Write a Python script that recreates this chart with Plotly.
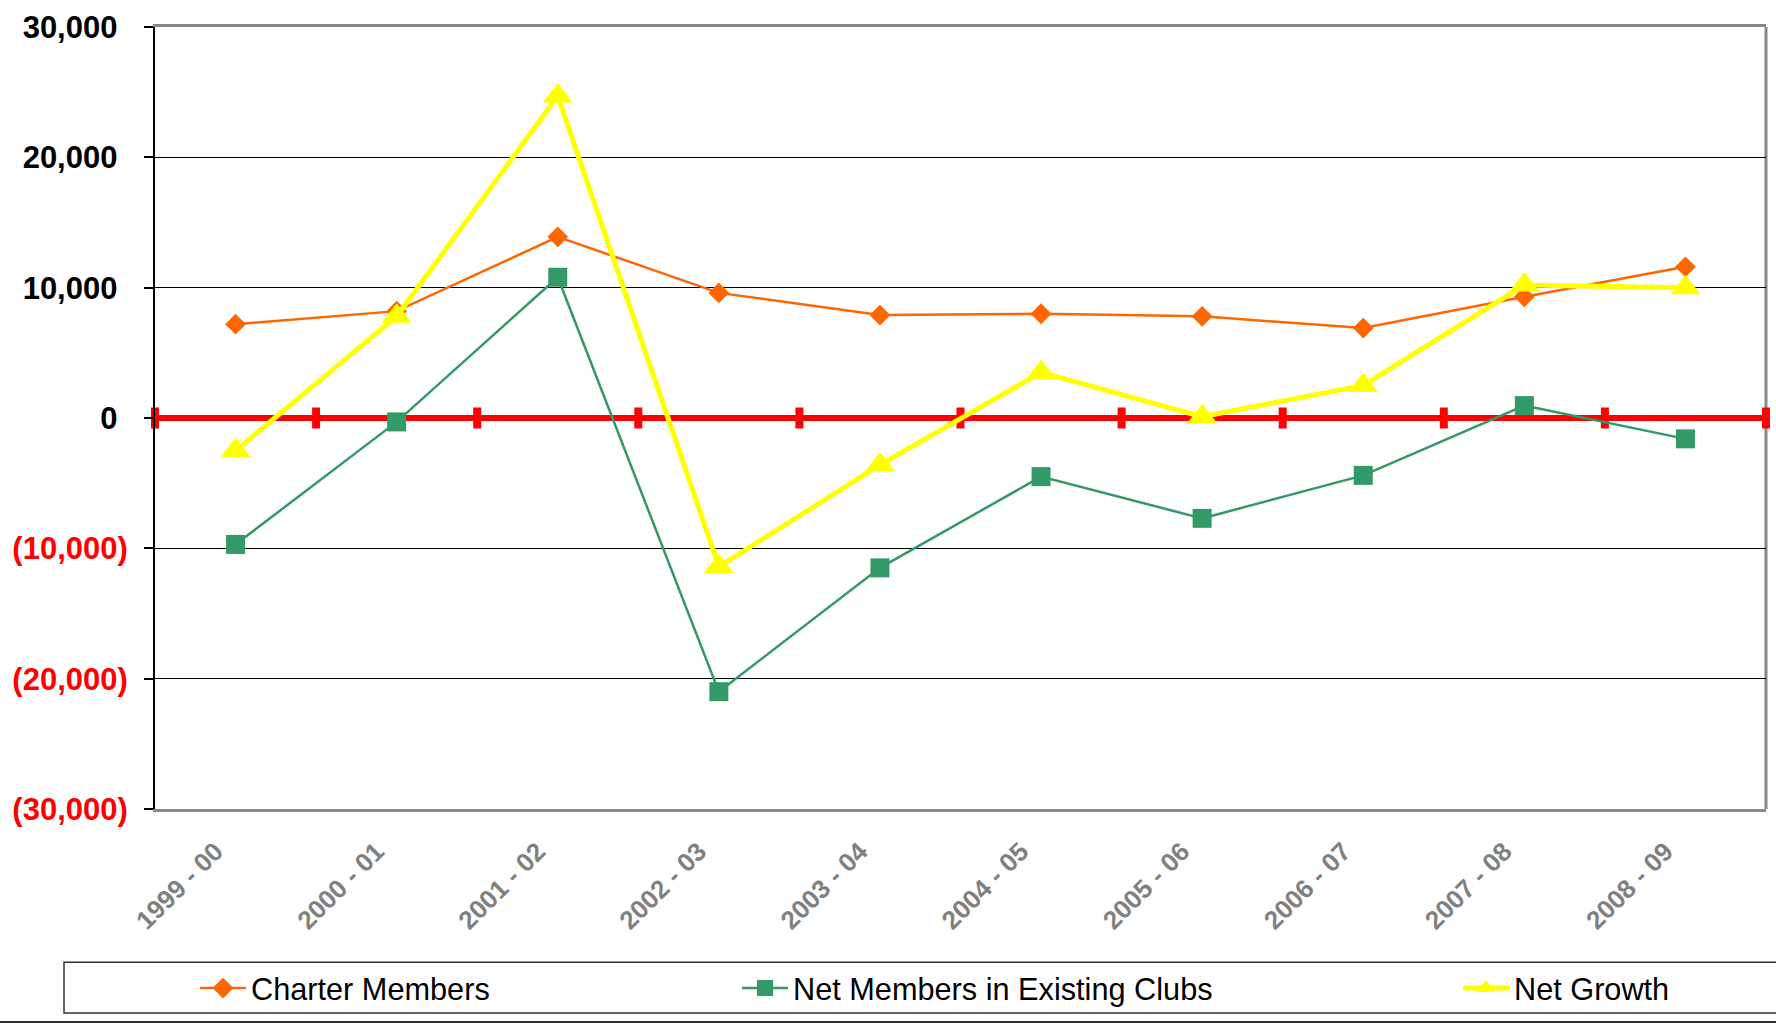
import plotly.graph_objects as go

categories = ["1999 - 00", "2000 - 01", "2001 - 02", "2002 - 03", "2003 - 04",
              "2004 - 05", "2005 - 06", "2006 - 07", "2007 - 08", "2008 - 09"]
charter_members = [7200, 8200, 13900, 9600, 7900, 8000, 7800, 6900, 9300, 11600]
net_members_existing = [-9700, -300, 10800, -21000, -11500, -4500, -7700, -4400, 950, -1600]
net_growth = [-2500, 7800, 24700, -11400, -3600, 3500, 100, 2500, 10200, 10000]

y_tick_vals = [-30000, -20000, -10000, 0, 10000, 20000, 30000]
y_tick_labels = ["(30,000)", "(20,000)", "(10,000)", "0", "10,000", "20,000", "30,000"]

FONT = "Liberation Sans, Arial, sans-serif"
W, H = 1776, 1026
L, R, T, B = 155, 10, 23, 217
PW, PH = W - L - R, H - T - B


def px_x(p):
    return (p - L) / PW


def px_y(p):
    return (H - B - p) / PH


idx = list(range(len(categories)))
boundaries = [i - 0.5 for i in range(len(categories) + 1)]

ticktext = []
for v, lab in zip(y_tick_vals, y_tick_labels):
    if v < 0:
        ticktext.append('<span style="color:#FF0000">' + lab + '</span>')
    else:
        ticktext.append(lab + '<span style="color:rgba(255,255,255,0)">)</span>')

fig = go.Figure()

# tick marks on the zero axis at category boundaries
fig.add_trace(go.Scatter(
    x=boundaries, y=[0] * len(boundaries), mode="markers",
    marker=dict(symbol="line-ns", size=15, color="#FF0000",
                line=dict(color="#FF0000", width=8)),
    showlegend=False, hoverinfo="skip", cliponaxis=False))

fig.add_trace(go.Scatter(
    x=idx, y=charter_members, name="Charter Members", mode="lines+markers",
    line=dict(color="#FF6600", width=2.5),
    marker=dict(symbol="diamond", size=16, color="#FF6600"),
    legend="legend"))

fig.add_trace(go.Scatter(
    x=idx, y=net_members_existing, name="Net Members in Existing Clubs",
    mode="lines+markers",
    line=dict(color="#339966", width=2.5),
    marker=dict(symbol="square", size=19, color="#339966"),
    legend="legend2"))

fig.add_trace(go.Scatter(
    x=idx, y=net_growth, name="Net Growth", mode="lines+markers",
    line=dict(color="#FFFF00", width=5),
    marker=dict(symbol="triangle-up", size=26, color="#FFFF00"),
    legend="legend3"))

legend_common = dict(orientation="h", yanchor="middle", xanchor="left",
                     y=px_y(989), bgcolor="rgba(0,0,0,0)", borderwidth=0,
                     font=dict(family=FONT, size=30.7, color="#000000"),
                     itemwidth=46)

fig.update_layout(
    width=W, height=H,
    margin=dict(l=L, r=R, t=T, b=B),
    paper_bgcolor="white", plot_bgcolor="white",
    font=dict(family=FONT),
    xaxis=dict(range=[-0.5, len(categories) - 0.5], tickmode="array",
               tickvals=idx, ticktext=categories, tickangle=-45,
               tickfont=dict(family=FONT, size=26, color="#808080", weight="bold"),
               ticks="outside", ticklen=14, tickcolor="rgba(0,0,0,0)",
               ticklabelshift=-20,
               showgrid=False, zeroline=False,
               showline=True, linecolor="#888888", linewidth=3, mirror=True),
    yaxis=dict(range=[-30000, 30000], tickmode="array",
               tickvals=y_tick_vals, ticktext=ticktext,
               tickfont=dict(family=FONT, size=31, color="#000000", weight="bold"),
               ticks="outside", ticklen=9, tickcolor="#000000", tickwidth=1.5,
               ticklabelstandoff=10,
               showgrid=True, gridcolor="#000000", gridwidth=1,
               zeroline=True, zerolinecolor="#FF0000", zerolinewidth=6,
               showline=True, linecolor="#000000", linewidth=2),
    legend=dict(x=px_x(195), **legend_common),
    legend2=dict(x=px_x(737), **legend_common),
    legend3=dict(x=px_x(1458), **legend_common),
    shapes=[
        dict(type="line", xref="paper", yref="paper", x0=1, x1=1, y0=0, y1=1,
             line=dict(color="#888888", width=3), layer="below"),
        dict(type="rect", xref="paper", yref="paper",
             x0=px_x(64), x1=px_x(1790), y0=px_y(1014), y1=px_y(963),
             line=dict(color="#303030", width=1.5)),
        dict(type="line", xref="paper", yref="paper",
             x0=px_x(0), x1=px_x(W), y0=px_y(1023), y1=px_y(1023),
             line=dict(color="#303030", width=2)),
    ],
)

fig.write_html("out.html",
               config={"displayModeBar": False},
               post_script="document.body.style.margin='0px';document.body.style.overflow='hidden';")
